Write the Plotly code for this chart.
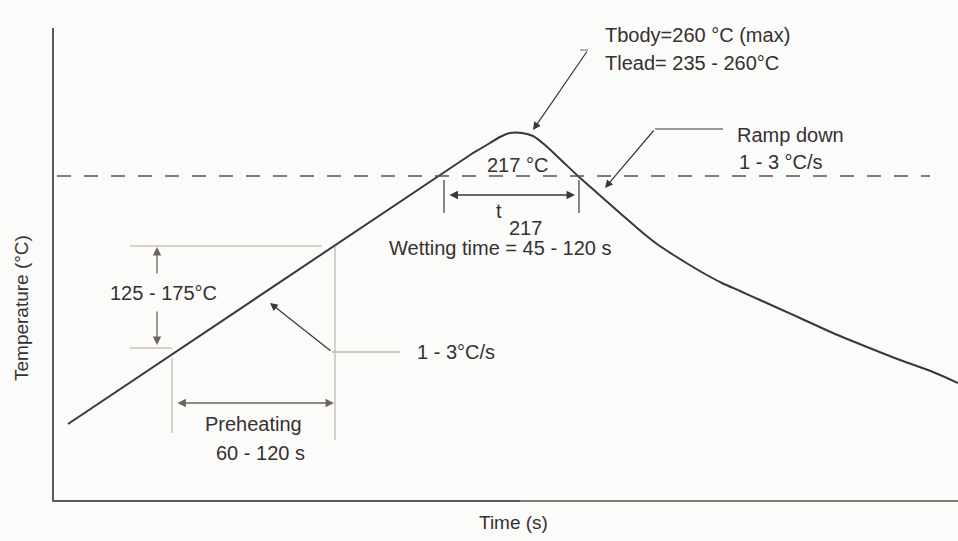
import plotly.graph_objects as go

# Schematic reflow profile (schematic units: time offset, temperature height)
profile_time = [14, 416, 426, 436, 446, 456, 468, 479, 491, 506, 524, 541, 558, 574, 589, 603,
                618, 634, 651, 668, 686, 706, 726, 746, 779, 813, 846, 879, 904]
profile_temp = [77, 346, 352, 358, 364, 368, 368, 365, 356, 342, 325, 310, 295, 281, 268, 257,
                247, 237, 227, 218, 210, 201, 192, 183, 168, 154, 141, 129, 118]

liquidus_level = 325          # 217 °C line
liquidus_span = [3, 876]
preheat_low, preheat_high = 153, 255
preheat_start, preheat_end = 118, 281
wet_start, wet_end = 390, 525

FONT = "Liberation Sans, Arial, sans-serif"
TXT = "#363032"
DARK = "#3d3639"
TAN = "#cdc3bb"
MID = "#6e645f"

fig = go.Figure()

# Main profile curve
fig.add_trace(go.Scatter(x=profile_time, y=profile_temp, mode="lines",
                         line=dict(color=DARK, width=2, shape="spline", smoothing=0.8),
                         hoverinfo="skip", showlegend=False, cliponaxis=False))

# 217 °C dashed line
fig.add_trace(go.Scatter(x=liquidus_span, y=[liquidus_level] * 2, mode="lines",
                         line=dict(color="#5a5254", width=1.5, dash="14px,13px"),
                         hoverinfo="skip", showlegend=False))

def seg(x, y, color=TAN, width=1.5):
    fig.add_trace(go.Scatter(x=x, y=y, mode="lines", line=dict(color=color, width=width),
                             hoverinfo="skip", showlegend=False, cliponaxis=False))

# Preheat guide lines
seg([76, 268], [preheat_high, preheat_high])
seg([76, preheat_start], [preheat_low, preheat_low])
seg([preheat_end, preheat_end], [preheat_high - 1, 61])
seg([preheat_start, preheat_start], [preheat_low - 10, 68])
# Wetting ticks
seg([wet_start, wet_start], [321, 288], color=DARK, width=1.2)
seg([wet_end, wet_end], [321, 288], color=DARK, width=1.2)
# Leader horizontals
seg([278, 346], [149, 149], color="#bfb4ad", width=1.5)
seg([526, 534], [451, 451], color="#8a807c", width=1.2)
seg([601, 669], [372, 372], color=DARK, width=1.2)

anns = []

def arrow(x, y, ax, ay, color=DARK, both=False, width=1.3, size=1.3):
    a = dict(x=x, y=y, ax=ax, ay=ay, xref="x", yref="y", axref="x", ayref="y",
             showarrow=True, arrowhead=2, arrowsize=size, arrowwidth=width,
             arrowcolor=color, text="")
    if both:
        a.update(arrowside="end+start", startarrowhead=2, startarrowsize=size)
    anns.append(a)

arrow(wet_end - 4, 306, wet_start + 4, 306, color=DARK, both=True)
arrow(preheat_end - 1, 98, preheat_start + 4, 98, color=MID, both=True)
arrow(103, preheat_high - 1, 103, 226, color=MID)
arrow(103, preheat_low + 3, 103, 191, color=MID)
arrow(216, 198, 278, 149, color=DARK, width=1.2)
arrow(479, 371, 534, 451, color=DARK, width=1.2)
arrow(551, 313, 601, 372, color=DARK, width=1.2)

def label(x, y, text, xanchor="left", size=20):
    anns.append(dict(x=x, y=y, xref="x", yref="y", text=text, showarrow=False,
                     xanchor=xanchor, yanchor="middle",
                     font=dict(family=FONT, size=size, color=TXT)))

label(549, 466, "Tbody=260 °C (max)")
label(549, 438, "Tlead= 235 - 260°C")
label(681, 366, "Ramp down")
label(683, 339, "1 - 3 °C/s")
label(431, 336, "217 °C")
label(445, 290, "t", xanchor="center")
label(471, 273, "217", xanchor="center")
label(446, 253, "Wetting time = 45 - 120 s", xanchor="center")
label(54, 208, "125 - 175°C")
label(361, 149, "1 - 3°C/s")
label(199, 77, "Preheating", xanchor="center")
label(206, 48, "60 - 120 s", xanchor="center")

anns.append(dict(x=(513 - 54) / 904, y=(501 - 522) / 473, xref="paper", yref="paper",
                 text="Time (s)", showarrow=False, xanchor="center", yanchor="middle",
                 font=dict(family=FONT, size=19, color=TXT)))
anns.append(dict(x=(21 - 54) / 904, y=(501 - 308) / 473, xref="paper", yref="paper",
                 text="Temperature (°C)", showarrow=False, textangle=-90,
                 xanchor="center", yanchor="middle",
                 font=dict(family=FONT, size=19, color=TXT)))

# Two-tone time axis line (paper coords)
split = (520 - 54) / 904
shapes = [
    dict(type="line", xref="paper", yref="paper", x0=-0.002, x1=split, y0=0, y1=0,
         line=dict(color="#5e5664", width=2.2), layer="above"),
    dict(type="line", xref="paper", yref="paper", x0=split, x1=1, y0=0, y1=0,
         line=dict(color="#857a74", width=2.2), layer="above"),
]

fig.update_layout(
    width=958, height=541,
    margin=dict(l=54, r=0, t=28, b=40),
    paper_bgcolor="#fbfbf9", plot_bgcolor="#fbfbf9",
    annotations=anns, shapes=shapes,
    xaxis=dict(range=[0, 904], showgrid=False, zeroline=False, showticklabels=False,
               ticks="", showline=False, fixedrange=True),
    yaxis=dict(range=[0, 473], showgrid=False, zeroline=False, showticklabels=False,
               ticks="", showline=True, linecolor="#5d5562", linewidth=2, fixedrange=True),
)

fig.write_html("out.html", config={"displayModeBar": False},
               post_script="document.body.style.margin='0px';document.body.style.overflow='hidden';")
